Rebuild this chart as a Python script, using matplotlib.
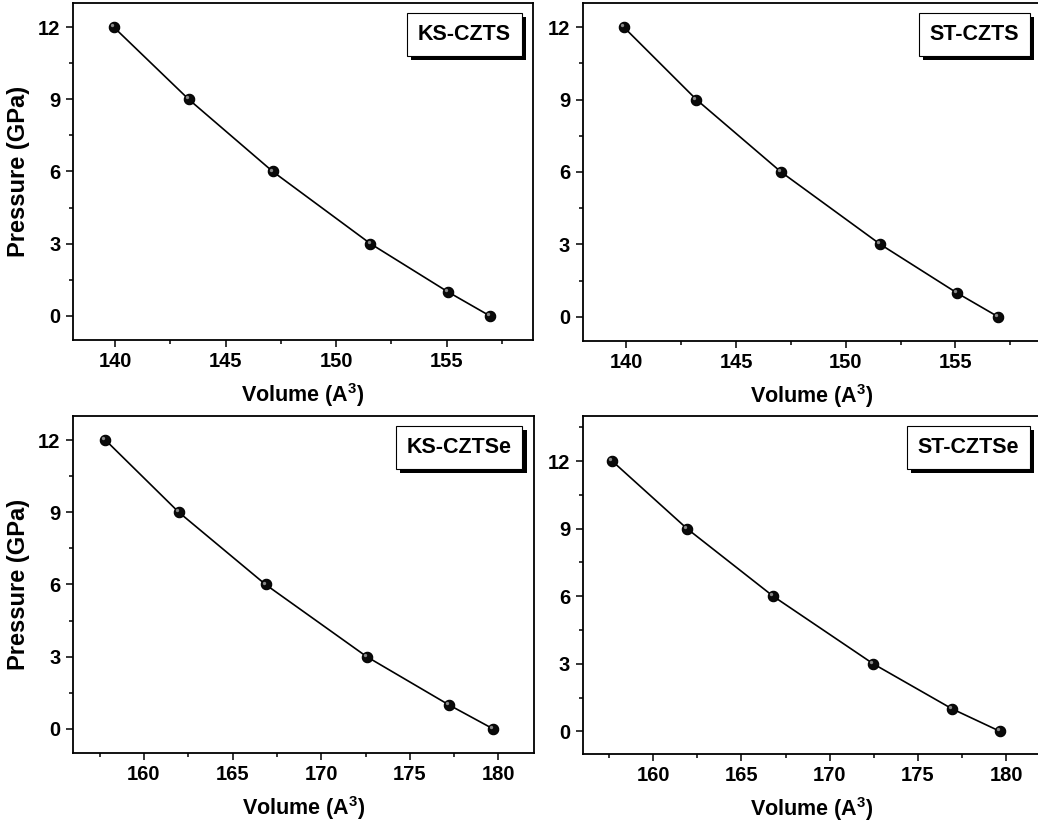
import matplotlib
matplotlib.use("Agg")
import matplotlib.pyplot as plt
import matplotlib.patheffects as pe
from matplotlib.ticker import MultipleLocator

plt.rcParams['font.family'] = ['Liberation Sans', 'DejaVu Sans']
plt.rcParams['font.weight'] = 'bold'
plt.rcParams['mathtext.fontset'] = 'custom'
plt.rcParams['mathtext.rm'] = 'Liberation Sans:bold'
plt.rcParams['mathtext.bf'] = 'Liberation Sans:bold'
plt.rcParams['mathtext.default'] = 'bf'

pressure = [12, 9, 6, 3, 1, 0]

vol_ks_czts = [139.94, 143.33, 147.13, 151.55, 155.05, 156.95]
vol_st_czts = [139.88, 143.19, 147.05, 151.58, 155.05, 156.95]
vol_ks_cztse = [157.83, 161.97, 166.86, 172.57, 177.2, 179.7]
vol_st_cztse = [157.68, 161.92, 166.8, 172.47, 176.94, 179.66]

names = ["KS-CZTS", "ST-CZTS", "KS-CZTSe", "ST-CZTSe"]
volumes = [vol_ks_czts, vol_st_czts, vol_ks_cztse, vol_st_cztse]
xlims = [(138.1, 158.9), (138.0, 158.9), (156.0, 182.0), (156.0, 182.0)]
ylims = [(-1, 13), (-1, 13), (-1, 13), (-1, 14)]

# panel rectangles in figure fractions
rects = [
    [0.0703, 0.5889, 0.4432, 0.4075],
    [0.5612, 0.5877, 0.4417, 0.4087],
    [0.0703, 0.0895, 0.4441, 0.4075],
    [0.5612, 0.0883, 0.4422, 0.4087],
]

fig = plt.figure(figsize=(10.38, 8.27), dpi=100)

for i in range(4):
    ax = fig.add_axes(rects[i])
    ax.plot(volumes[i], pressure, color='black', lw=1.2, zorder=2)
    ax.plot(volumes[i], pressure, 'o', ms=7.5, mfc='#0a0a0a', mec='black',
            mew=0.8, zorder=3)
    # small highlight on each ball
    ax.plot(volumes[i], pressure, 'o', ms=2.4, mfc='#8a8a8a', mec='none',
            zorder=4,
            transform=ax.transData + matplotlib.transforms.ScaledTranslation(
                -1.4 / 72, 1.4 / 72, fig.dpi_scale_trans))
    ax.set_xlim(*xlims[i])
    ax.set_ylim(*ylims[i])
    ax.xaxis.set_major_locator(MultipleLocator(5))
    ax.xaxis.set_minor_locator(MultipleLocator(2.5))
    ax.yaxis.set_major_locator(MultipleLocator(3))
    ax.yaxis.set_minor_locator(MultipleLocator(1.5))
    ax.tick_params(which='both', direction='out', top=False, right=False,
                   width=1.1, labelsize=14.5)
    ax.tick_params(which='major', length=5, pad=4)
    ax.tick_params(which='minor', length=3)
    for t in ax.get_xticklabels() + ax.get_yticklabels():
        t.set_fontweight('bold')
    for s in ax.spines.values():
        s.set_linewidth(1.3)
    ax.set_xlabel(r'Volume (A$^{3}$)', fontsize=15.5, fontweight='bold',
                  labelpad=7)
    if i % 2 == 0:
        ax.set_ylabel('Pressure (GPa)', fontsize=17, fontweight='bold',
                      labelpad=6)
    t = ax.annotate(names[i], xy=(1, 1), xycoords='axes fraction',
                    xytext=(-16, -15), textcoords='offset points',
                    ha='right', va='top', fontsize=15.5, fontweight='bold',
                    bbox=dict(boxstyle='square,pad=0.5', fc='white',
                              ec='black', lw=0.8))
    t.get_bbox_patch().set_path_effects([
        pe.SimplePatchShadow(offset=(3, -3), shadow_rgbFace='black', alpha=1),
        pe.Normal()])

fig.savefig('out.png', dpi=100)
